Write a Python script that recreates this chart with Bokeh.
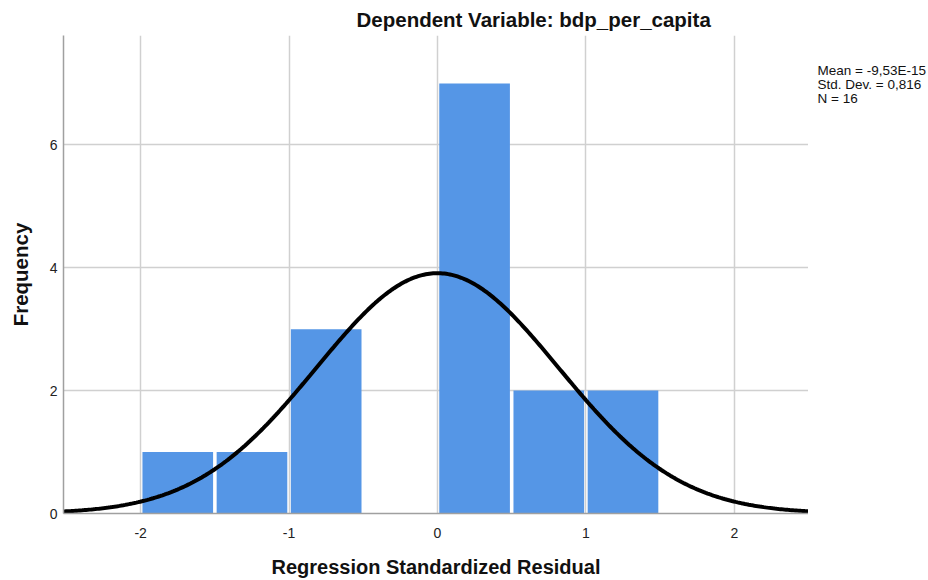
import numpy as np
from bokeh.plotting import figure
from bokeh.layouts import row
from bokeh.models import Range1d, FixedTicker
from bokeh.core.properties import value
from bokeh.embed import file_html
from bokeh.resources import INLINE

# ---- data ----
bin_edges_left = [-2.0, -1.5, -1.0, -0.5, 0.0, 0.5, 1.0]
bin_edges_right = [-1.5, -1.0, -0.5, 0.0, 0.5, 1.0, 1.5]
counts = [1, 1, 3, 0, 7, 2, 2]
mean_val = -9.53e-15
std_dev = 0.816
n_obs = 16
bin_width = 0.5
x_ticks = [-2, -1, 0, 1, 2]
x_tick_labels = ["-2", "-1", "0", "1", "2"]
y_ticks = [0, 2, 4, 6]
title_text = "Dependent Variable: bdp_per_capita"
stats_lines = ["Mean = -9,53E-15", "Std. Dev. = 0,816", "N = 16"]

FONT = "Liberation Sans"
XMIN, XMAX = -2.52, 2.5
YMAX = 7.78
H = 580
FRAME_TOP, FRAME_BOTTOM = 35, 514

p = figure(width=808, height=H, output_backend="svg", toolbar_location=None,
           x_range=Range1d(XMIN, XMAX), y_range=Range1d(0, YMAX),
           min_border_left=63, min_border_right=0, min_border_top=FRAME_TOP,
           min_border_bottom=H - FRAME_BOTTOM, title=title_text)
p.outline_line_color = None
p.background_fill_color = "white"

p.title.align = "left"
p.title.offset = 293
p.title.text_font = FONT
p.title.text_font_size = "20.5px"
p.title.text_font_style = "bold"
p.title.text_color = "#111111"
p.title.standoff = 9

inset = 0.012
p.quad(left=[l + inset for l in bin_edges_left],
       right=[r - inset for r in bin_edges_right],
       bottom=0, top=counts, fill_color="#5596e6", line_color=None)

xs = np.linspace(XMIN, XMAX, 400)
ys = n_obs * bin_width * np.exp(-0.5 * ((xs - mean_val) / std_dev) ** 2) / (std_dev * np.sqrt(2 * np.pi))
p.line(xs, ys, line_color="black", line_width=4)

for ax in (p.xaxis, p.yaxis):
    ax.major_tick_line_color = None
    ax.minor_tick_line_color = None
    ax.axis_line_color = "#a0a0a0"
    ax.axis_line_width = 1.5
    ax.major_label_text_font = FONT
    ax.major_label_text_font_size = "14px"
    ax.major_label_text_color = "#222222"
    ax.axis_label_text_font = FONT
    ax.axis_label_text_font_size = "20px"
    ax.axis_label_text_font_style = "bold"
    ax.axis_label_text_color = "#111111"

p.yaxis.axis_label_text_font_size = "20.5px"
p.xaxis.ticker = FixedTicker(ticks=x_ticks)
p.xaxis.major_label_overrides = {t: s for t, s in zip(x_ticks, x_tick_labels)}
p.yaxis.ticker = FixedTicker(ticks=y_ticks)
p.xaxis.axis_label = "Regression Standardized Residual"
p.yaxis.axis_label = "Frequency"
p.xaxis.major_label_standoff = 8
p.xaxis.axis_label_standoff = 15
p.yaxis.major_label_standoff = 0
p.yaxis.axis_label_standoff = 15
p.yaxis.major_label_orientation = "horizontal"

p.xgrid.grid_line_color = "#d0d0d0"
p.ygrid.grid_line_color = "#d0d0d0"
p.xgrid.grid_line_width = 1.5
p.ygrid.grid_line_width = 1.5
p.xgrid.ticker = FixedTicker(ticks=x_ticks)
p.ygrid.ticker = FixedTicker(ticks=[2, 4, 6])

# side panel holding the statistics box; its frame is aligned with the main
# frame by the row layout, so its y range spans the same pixel rows
side = figure(width=120, height=H, output_backend="svg", toolbar_location=None,
              x_range=Range1d(0, 120), y_range=Range1d(FRAME_BOTTOM, FRAME_TOP),
              title=None, x_axis_type=None, y_axis_type=None,
              min_border_left=0, min_border_right=0, min_border_top=FRAME_TOP,
              min_border_bottom=H - FRAME_BOTTOM)
side.grid.visible = False
side.outline_line_color = None
stat_x = [9, 9, 9]
stat_y = [69.6, 83.8, 98.0]
side.text(x=stat_x, y=stat_y, text=stats_lines, text_font=value(FONT),
          text_font_size="13.5px", text_baseline="middle", text_align="left",
          text_color="#111111")

layout = row(p, side)
open("out.html", "w").write(file_html(layout, INLINE))
